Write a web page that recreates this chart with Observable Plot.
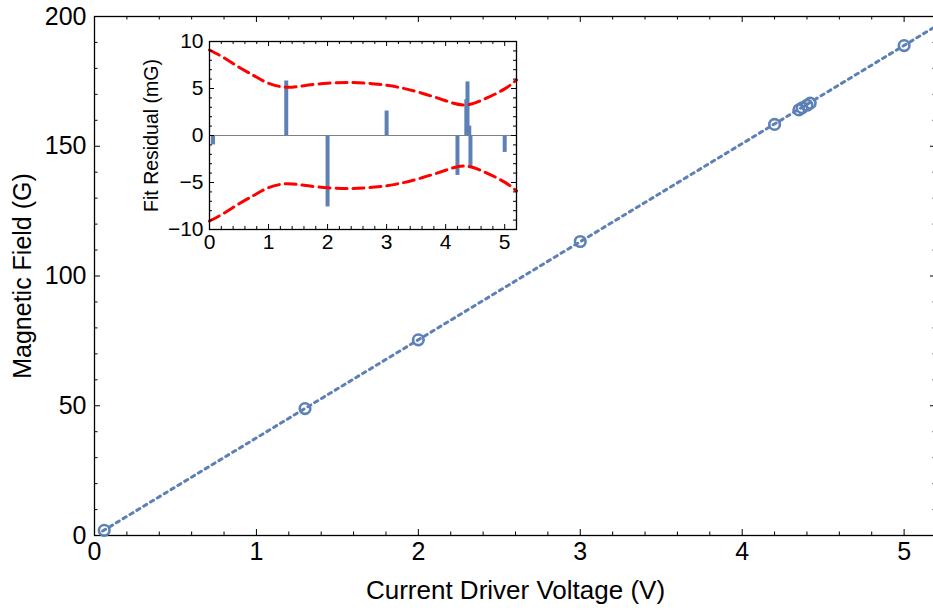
<!DOCTYPE html>
<html><head><meta charset="utf-8">
<script src="https://cdn.jsdelivr.net/npm/d3@7"></script>
<script src="https://cdn.jsdelivr.net/npm/@observablehq/plot@0.6"></script>
<style>
body{margin:0;background:#fff;}
#wrap{position:relative;width:933px;height:614px;overflow:hidden;}
#inset{position:absolute;left:140px;top:25px;}
</style></head><body><div id="wrap"><div id="main"></div><div id="inset"></div></div>
<script>
// Data
const voltage  = [0.06, 1.3, 2.0, 3.0, 4.2, 4.35, 4.37, 4.40, 4.42, 5.0];
const field    = [2.0, 48.9, 75.4, 113.3, 158.4, 164.0, 164.8, 165.8, 166.6, 188.8];
const residual = [-1.0, 5.8, -7.6, 2.6, -4.25, 3.8, 5.7, 1.0, -3.3, -1.8];
const fitX = [0.05, 5.2];
const fitY = [1.7, 196.4];
const bandX     = [0, 0.25, 0.5, 0.75, 1.0, 1.3, 1.6, 2.0, 2.4, 2.8, 3.2, 3.6, 4.0, 4.35, 4.7, 5.0, 5.2];
const bandUpper = [9.1, 8.25, 7.26, 6.37, 5.56, 5.13, 5.3, 5.56, 5.63, 5.49, 5.13, 4.5, 3.7, 3.26, 4.0, 4.96, 5.9];
const bandLower = [-9.1, -8.25, -7.26, -6.37, -5.56, -5.13, -5.3, -5.56, -5.63, -5.49, -5.13, -4.5, -3.7, -3.26, -4.0, -4.96, -5.9];
const mainXTicks = [0, 1, 2, 3, 4, 5];
const mainYTicks = [0, 50, 100, 150, 200];
const insetXTicks = [0, 1, 2, 3, 4, 5];
const insetYTicks = [-10, -5, 0, 5, 10];

const BLUE = "#5E81B5", RED = "#FF0000";
const FONT = "'Liberation Sans', Arial, sans-serif";
const fmt = d => d < 0 ? "\u2212" + Math.abs(d) : String(d);

const pts = voltage.map((v, i) => ({v, b: field[i], r: residual[i]}));
const fit = fitX.map((x, i) => ({x, y: fitY[i]}));
const band = bandX.map((x, i) => ({x, u: bandUpper[i], l: bandLower[i]}));

function minorOf(lo, hi, step, majors) {
  return d3.range(Math.round((hi - lo) / step) + 1).map(i => +(lo + i * step).toFixed(4))
    .filter(v => !majors.some(m => Math.abs(m - v) < 1e-6));
}
function frameTicks(xs, ys, len, innerW, innerH, sides) {
  const out = [];
  if (sides.includes("b")) out.push(Plot.tickX(xs, {x: d => d, insetTop: innerH - len, stroke: "black", strokeWidth: 1}));
  if (sides.includes("t")) out.push(Plot.tickX(xs, {x: d => d, insetBottom: innerH - len, stroke: "black", strokeWidth: 1}));
  if (sides.includes("l")) out.push(Plot.tickY(ys, {y: d => d, insetRight: innerW - len, stroke: "black", strokeWidth: 1}));
  if (sides.includes("r")) out.push(Plot.tickY(ys, {y: d => d, insetLeft: innerW - len, stroke: "black", strokeWidth: 1}));
  return out;
}

// Main plot
{
  const W = 933, H = 614, mL = 94, mT = 16, mB = 79, mR = -3;
  const iW = W - mL - mR, iH = H - mT - mB;
  const xMin = minorOf(0, 5.2, 0.2, mainXTicks);
  const yMin = minorOf(0, 200, 10, mainYTicks);
  const chart = Plot.plot({
    width: W, height: H,
    marginLeft: mL, marginRight: mR, marginTop: mT, marginBottom: mB,
    x: {domain: [0, 5.2]},
    y: {domain: [0, 200]},
    style: {fontFamily: FONT, fontSize: "25px", color: "black", background: "white", overflow: "hidden"},
    marks: [
      Plot.axisX({ticks: mainXTicks, tickFormat: fmt, tickSize: 0, tickPadding: 7, label: null, fontSize: 25}),
      Plot.axisY({ticks: mainYTicks, tickFormat: fmt, tickSize: 0, tickPadding: 8, label: null, fontSize: 25}),
      ...frameTicks(mainXTicks, mainYTicks, 6, iW, iH, "btlr"),
      ...frameTicks(xMin, yMin, 3.5, iW, iH, "btlr"),
      Plot.frame({stroke: "black", strokeWidth: 1.3}),
      Plot.line(fit, {x: "x", y: "y", stroke: BLUE, strokeWidth: 3, strokeDasharray: "3.5,4.5"}),
      Plot.dot(pts, {x: "v", y: "b", r: 5.3, stroke: BLUE, strokeWidth: 2.6, fill: "none"}),
      Plot.text(["Current Driver Voltage (V)"], {frameAnchor: "bottom", textAnchor: "middle", dy: 63, fontSize: 26, fill: "black"}),
      Plot.text(["Magnetic Field (G)"], {frameAnchor: "left", textAnchor: "middle", dx: -72, rotate: -90, fontSize: 25, fill: "black"})
    ]
  });
  document.getElementById("main").appendChild(chart);
}

// Inset plot
{
  const W = 390, H = 250, mL = 69, mT = 16, mB = 46, mR = 14;
  const iW = W - mL - mR, iH = H - mT - mB;
  const xMin = minorOf(0, 5.2, 0.2, insetXTicks);
  const yMin = minorOf(-10, 10, 1, insetYTicks);
  const chart = Plot.plot({
    width: W, height: H,
    marginLeft: mL, marginRight: mR, marginTop: mT, marginBottom: mB,
    x: {domain: [0, 5.2]},
    y: {domain: [-10, 10]},
    style: {fontFamily: FONT, fontSize: "21px", color: "black", background: "none", overflow: "visible"},
    marks: [
      Plot.axisX({ticks: insetXTicks, tickFormat: fmt, tickSize: 0, tickPadding: 5, label: null, fontSize: 21}),
      Plot.axisY({ticks: insetYTicks, tickFormat: fmt, tickSize: 0, tickPadding: 6, label: null, fontSize: 21}),
      Plot.ruleY([0], {stroke: "#808080", strokeWidth: 1}),
      Plot.ruleX(pts, {x: "v", y1: 0, y2: "r", stroke: BLUE, strokeWidth: 4}),
      Plot.line(band, {x: "x", y: "u", stroke: RED, strokeWidth: 3, strokeDasharray: "11,6", curve: "natural"}),
      Plot.line(band, {x: "x", y: "l", stroke: RED, strokeWidth: 3, strokeDasharray: "11,6", curve: "natural"}),
      ...frameTicks(insetXTicks, insetYTicks, 5, iW, iH, "btlr"),
      ...frameTicks(xMin, yMin, 3, iW, iH, "btlr"),
      Plot.frame({stroke: "black", strokeWidth: 1.3}),
      Plot.text(["Fit Residual (mG)"], {frameAnchor: "left", textAnchor: "middle", dx: -58, rotate: -90, fontSize: 19.5, fill: "black"})
    ]
  });
  document.getElementById("inset").appendChild(chart);
}
</script></body></html>
